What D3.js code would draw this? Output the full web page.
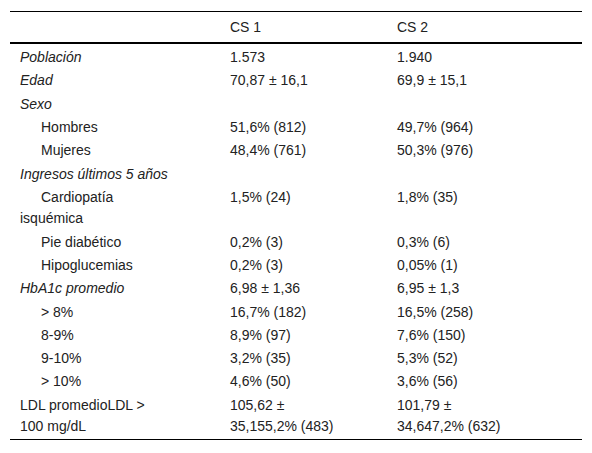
<!DOCTYPE html><html><head><meta charset="utf-8"><script src="https://d3js.org/d3.v7.min.js"></script>
<style>body{margin:0;background:#fff}</style></head><body><svg id="c" width="592" height="453"></svg>
<script>
const headers = ["", "CS 1", "CS 2"];
const labels = ["Población","Edad","Sexo","Hombres","Mujeres","Ingresos últimos 5 años","Cardiopatía|isquémica","Pie diabético","Hipoglucemias","HbA1c promedio","> 8%","8-9%","9-10%","> 10%","LDL promedioLDL >|100 mg/dL"];
const italic = [1,1,1,0,0,1,0,0,0,1,0,0,0,0,0];
const indent = [0,0,0,1,1,0,1,1,1,0,1,1,1,1,0];
const cs1 = ["1.573","70,87 ± 16,1","","51,6% (812)","48,4% (761)","","1,5% (24)","0,2% (3)","0,2% (3)","6,98 ± 1,36","16,7% (182)","8,9% (97)","3,2% (35)","4,6% (50)","105,62 ±|35,155,2% (483)"];
const cs2 = ["1.940","69,9 ± 15,1","","49,7% (964)","50,3% (976)","","1,8% (35)","0,3% (6)","0,05% (1)","6,95 ± 1,3","16,5% (258)","7,6% (150)","5,3% (52)","3,6% (56)","101,79 ±|34,647,2% (632)"];
const svg = d3.select("#c");
const font = "Liberation Sans, Arial, sans-serif";
const colX = [20, 230, 397];
const lineH = 23.3;
svg.append("line").attr("x1",10).attr("x2",582).attr("y1",11.5).attr("y2",11.5).attr("stroke","#000").attr("stroke-width",1);
svg.append("line").attr("x1",10).attr("x2",582).attr("y1",43).attr("y2",43).attr("stroke","#000").attr("stroke-width",2);
headers.forEach((h,i)=>svg.append("text").attr("x",colX[i]).attr("y",32).text(h).attr("font-family",font).attr("font-size",14).attr("fill","#222"));
let y = 62;
labels.forEach((lab,i)=>{
  const parts=[lab.split("|"), cs1[i].split("|"), cs2[i].split("|")];
  const n = Math.max(...parts.map(p=>p.length));
  parts.forEach((p,c)=>{
    p.forEach((t,k)=>{
      const x = c===0 ? (indent[i]&&k===0 ? colX[0]+21 : colX[0]) : colX[c];
      svg.append("text").attr("x",x).attr("y",y+k*21.5).text(t)
        .attr("font-family",font).attr("font-size",14).attr("fill","#222")
        .attr("font-style",c===0&&italic[i]?"italic":"normal");
    });
  });
  y += lineH + (n-1)*21.5;
});
svg.append("line").attr("x1",10).attr("x2",582).attr("y1",439.5).attr("y2",439.5).attr("stroke","#000").attr("stroke-width",1);
</script></body></html>
